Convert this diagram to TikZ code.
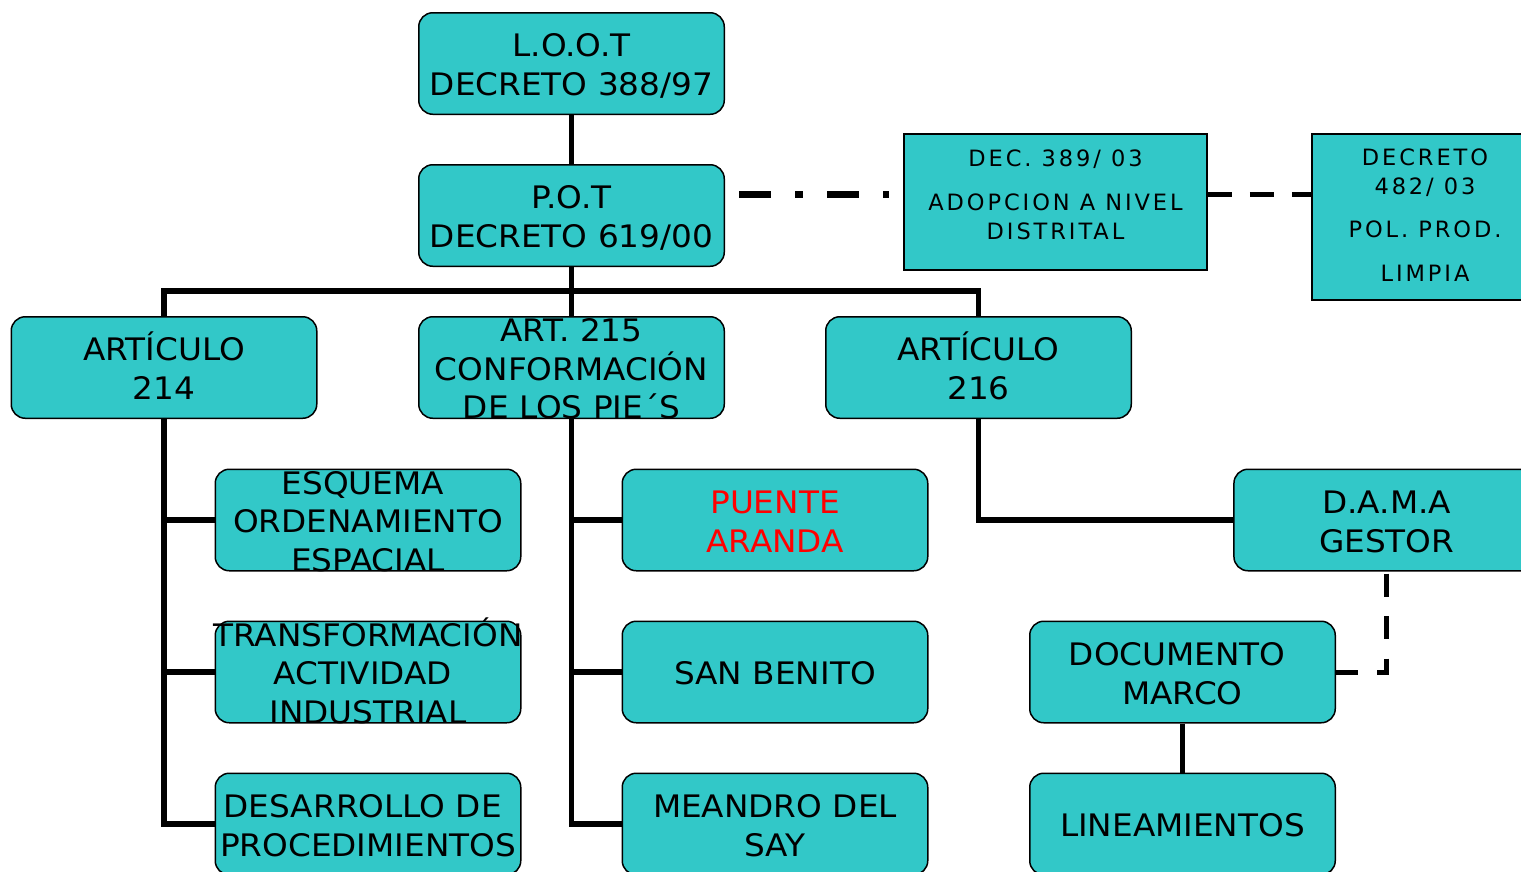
\documentclass[tikz,border=0pt]{standalone}
\usepackage{fontspec}
\setmainfont[FakeStretch=1.055]{DejaVu Sans}
\newfontfamily\trackfont[LetterSpace=13]{DejaVu Sans}
\definecolor{boxteal}{RGB}{50,200,200}
\newcommand\mlines[1]{\vtop{\lineskiplimit=-\maxdimen\lineskip=0pt\halign{\hfil##\hfil\cr#1\crcr}}}
\tikzset{
  box/.style={draw=black, line width=1.5pt, fill=boxteal, rounded corners=14pt,
    minimum width=305.5pt, minimum height=101.5pt, inner sep=0pt},
  sqbox/.style={draw=black, line width=1.5pt, fill=boxteal, inner sep=0pt},
  txt/.style={font=\fontsize{31}{38.7}\selectfont, inner sep=0pt, anchor=base},
  smalltxt/.style={font=\fontsize{22.5}{29}\selectfont\trackfont, inner sep=0pt, anchor=base},
  conn/.style={line width=5.5pt},
}
\begin{document}
\begin{tikzpicture}[x=1pt,y=-1pt]
\useasboundingbox (0,0) rectangle (1521,871);
% boxes
\node[box] (loot) at (571.5,63.5) {};
\node[box] (pot) at (571.5,215.5) {};
\node[box] (a214) at (164,367.5) {};
\node[box] (a215) at (571.5,367.5) {};
\node[box] (a216) at (978.5,367.5) {};
\node[box] (esq) at (368,520) {};
\node[box] (puente) at (775,520) {};
\node[box] (dama) at (1386.7,520) {};
\node[box] (trans) at (368,672) {};
\node[box] (sanb) at (775,672) {};
\node[box] (doc) at (1182.5,672) {};
\node[box] (desa) at (368,824) {};
\node[box] (mea) at (775,824) {};
\node[box] (lin) at (1182.5,824) {};
\node[sqbox, minimum width=303pt, minimum height=136pt] (dec389) at (1055.5,202) {};
\node[sqbox, minimum width=226pt, minimum height=166pt] (dec482) at (1425,217) {};
% texts
\node[txt] (tloot) at (571.5,56.8) {\mlines{L.O.O.T\cr DECRETO 388/97}};
\node[txt] (tpot) at (571.5,208.8) {\mlines{P.O.T\cr DECRETO 619/00}};
\node[txt] (ta214) at (164,360.8) {\mlines{ARTÍCULO\cr 214}};
\node[txt] (ta215) at (571.5,341.5) {\mlines{ART. 215\cr CONFORMACIÓN\cr DE LOS PIE´S}};
\node[txt] (ta216) at (978.5,360.8) {\mlines{ARTÍCULO\cr 216}};
\node[txt] (tesq) at (368,494) {\mlines{ESQUEMA\ \cr ORDENAMIENTO\cr ESPACIAL}};
\node[txt, text=red] (tpuente) at (775,513.3) {\mlines{PUENTE\cr ARANDA}};
\node[txt] (tdama) at (1386.7,513.3) {\mlines{D.A.M.A\cr GESTOR}};
\node[txt] (ttrans) at (368,646) {\mlines{TRANSFORMACIÓN\cr ACTIVIDAD\ \cr INDUSTRIAL}};
\node[txt] (tsanb) at (775,684.7) {SAN BENITO};
\node[txt] (tdoc) at (1182.5,665.3) {\mlines{DOCUMENTO\ \cr MARCO}};
\node[txt] (tdesa) at (368,817.3) {\mlines{DESARROLLO DE\ \cr PROCEDIMIENTOS}};
\node[txt] (tmea) at (775,817.3) {\mlines{MEANDRO DEL\cr SAY}};
\node[txt] (tlin) at (1182.5,836.7) {LINEAMIENTOS};
\node[smalltxt] (t389) at (1055.5,166.5) {\mlines{DEC. 389/ 03\cr\noalign{\vskip15pt}ADOPCION A NIVEL\cr DISTRITAL}};
\node[smalltxt] (t482) at (1425,165) {\mlines{DECRETO\cr 482/ 03\cr\noalign{\vskip14pt}POL. PROD.\cr\noalign{\vskip15pt}LIMPIA}};
% connectors
\draw[conn] (loot.south) -- (pot.north);
\draw[conn] (pot.south) -- (a215.north);
\draw[conn] (a214.north) -- ++(0,-25) -| (a216.north);
\draw[conn] (a214.south) |- (esq.west);
\draw[conn] (a214.south) |- (trans.west);
\draw[conn] (a214.south) |- (desa.west);
\draw[conn] (a215.south) |- (puente.west);
\draw[conn] (a215.south) |- (sanb.west);
\draw[conn] (a215.south) |- (mea.west);
\draw[conn] (a216.south) |- (dama.west);
\draw[conn] (doc.south) -- (lin.north);
\draw[line width=7.5pt, dash pattern=on 32pt off 24pt on 8pt off 24pt]
  ([shift={(14,-21)}]pot.east) -- ([shift={(-14,-7.5)}]dec389.west);
\draw[line width=5pt, dash pattern=on 24pt off 18pt]
  ([shift={(0,-7.5)}]dec389.east) -- ([shift={(0,-22.5)}]dec482.west);
\draw[line width=5pt, dash pattern=on 23pt off 19.5pt]
  ([shift={(0,2)}]dama.south) |- (doc.east);
\end{tikzpicture}
\end{document}
